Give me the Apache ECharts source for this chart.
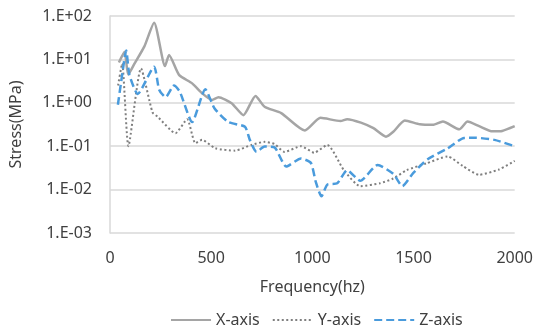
<!DOCTYPE html>
<html>
<head>
<meta charset="utf-8">
<script src="https://cdn.jsdelivr.net/npm/echarts@6/dist/echarts.min.js"></script>
<style>html,body{margin:0;padding:0;background:#fff}#c{width:536px;height:334px}</style>
</head>
<body>
<div id="c"></div>
<script>
var seriesNames = ['X-axis', 'Y-axis', 'Z-axis'];
var xTicks = [0, 500, 1000, 1500, 2000];

var xFreq   = [44, 72, 90, 121, 170, 218, 272, 292, 341, 406, 455, 504, 536, 601, 659, 719, 764, 846, 963, 1040, 1139, 1172, 1240, 1302, 1364, 1400, 1457, 1531, 1596, 1645, 1726, 1767, 1824, 1890, 1938, 2000];
var xStress = [8.5, 15, 4.5, 8, 20, 70, 7, 12.6, 4.4, 2.8, 1.66, 1.16, 1.34, 0.98, 0.52, 1.44, 0.81, 0.58, 0.23, 0.45, 0.38, 0.42, 0.35, 0.26, 0.166, 0.215, 0.39, 0.32, 0.31, 0.37, 0.245, 0.37, 0.29, 0.22, 0.225, 0.29];

var yFreq   = [40, 60, 91, 153, 210, 235, 324, 381, 422, 455, 520, 618, 699, 764, 813, 862, 944, 1009, 1074, 1156, 1237, 1335, 1400, 1466, 1563, 1669, 1743, 1824, 1922, 2000];
var yStress = [2.5, 8, 0.1, 6.2, 0.6, 0.48, 0.2, 0.42, 0.117, 0.14, 0.09, 0.079, 0.107, 0.126, 0.112, 0.074, 0.10, 0.071, 0.107, 0.028, 0.012, 0.014, 0.018, 0.028, 0.04, 0.058, 0.035, 0.022, 0.029, 0.046];

var zFreq   = [39, 55, 80, 96, 137, 218, 243, 275, 316, 345, 406, 471, 516, 585, 667, 691, 724, 764, 813, 871, 944, 993, 1017, 1045, 1074, 1123, 1172, 1237, 1323, 1400, 1445, 1498, 1570, 1669, 1750, 1808, 1900, 2000];
var zStress = [0.9, 3, 16, 4.4, 1.6, 6.8, 2.0, 1.34, 2.5, 1.8, 0.36, 2.05, 0.75, 0.36, 0.28, 0.14, 0.074, 0.098, 0.094, 0.034, 0.052, 0.041, 0.015, 0.007, 0.013, 0.014, 0.028, 0.016, 0.037, 0.023, 0.012, 0.024, 0.05, 0.089, 0.155, 0.156, 0.14, 0.10];

function pairs(f, v) { return f.map(function (x, i) { return [x, v[i]]; }); }

var FONT = '"Noto Sans", sans-serif';
var TXT = '#404040';
var FS = 16;

var chart = echarts.init(document.getElementById('c'), null, {renderer: 'canvas'});
chart.setOption({
  animation: false,
  backgroundColor: '#fff',
  grid: {left: 107, right: 20, top: 16, bottom: 101, containLabel: false},
  xAxis: {
    type: 'value', min: 0, max: 2000, interval: 500,
    name: 'Frequency(hz)', nameLocation: 'middle', nameGap: 46,
    nameTextStyle: {color: TXT, fontSize: FS, fontFamily: FONT},
    axisLine: {show: false}, axisTick: {show: false}, splitLine: {show: false},
    axisLabel: {color: TXT, fontSize: FS, fontFamily: FONT, margin: 17,
      formatter: function (v) { return xTicks.indexOf(v) >= 0 ? String(v) : ''; }}
  },
  yAxis: {
    type: 'log', logBase: 10, min: 0.001, max: 100,
    name: 'Stress(MPa)', nameLocation: 'middle', nameGap: 86,
    nameTextStyle: {color: TXT, fontSize: FS, fontFamily: FONT},
    axisLine: {show: true, lineStyle: {color: '#D9D9D9', width: 1.5}},
    axisTick: {show: false},
    splitLine: {show: true, lineStyle: {color: '#D9D9D9', width: 1.5}},
    axisLabel: {color: TXT, fontSize: FS, fontFamily: FONT, margin: 18,
      formatter: function (v) {
        var e = Math.round(Math.log10(v));
        var s = e < 0 ? '-' : '+';
        var a = Math.abs(e);
        return '1.E' + s + (a < 10 ? '0' + a : a);
      }}
  },
  legend: {
    bottom: 1, left: 165, itemWidth: 40, itemHeight: 10, itemGap: 12,
    itemStyle: {opacity: 0},
    textStyle: {color: TXT, fontSize: FS, fontFamily: FONT},
    data: seriesNames
  },
  series: [
    {name: seriesNames[0], type: 'line', data: pairs(xFreq, xStress), smooth: 0.2, symbol: 'none',
      lineStyle: {color: '#A5A5A5', width: 2.5}, itemStyle: {color: '#A5A5A5'}, z: 2},
    {name: seriesNames[1], type: 'line', data: pairs(yFreq, yStress), smooth: 0.2, symbol: 'none',
      lineStyle: {color: '#7F7F7F', width: 2, type: [2, 2.5]}, itemStyle: {color: '#7F7F7F'}, z: 3},
    {name: seriesNames[2], type: 'line', data: pairs(zFreq, zStress), smooth: 0.2, symbol: 'none',
      lineStyle: {color: '#4A9BDC', width: 2.5, type: [8, 4]}, itemStyle: {color: '#4A9BDC'}, z: 4}
  ]
});
</script>
</body>
</html>
